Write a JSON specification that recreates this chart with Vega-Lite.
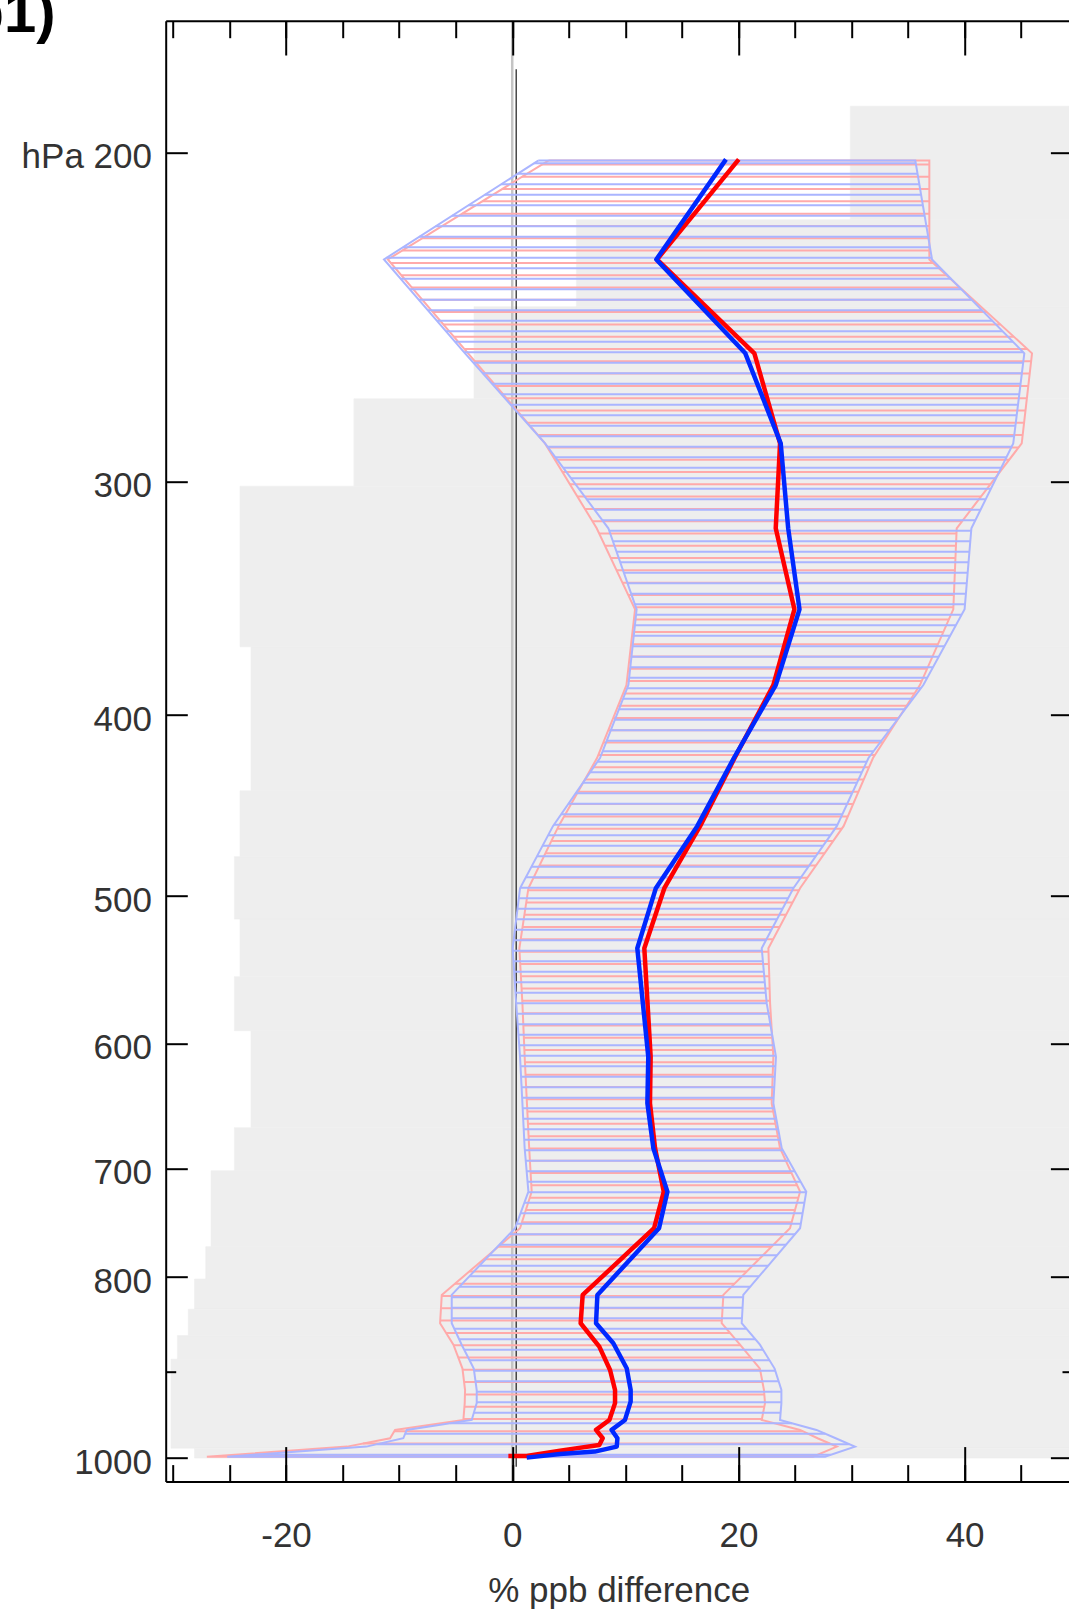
{
"$schema": "https://vega.github.io/schema/vega-lite/v6.json",
"width": 903.3,
"height": 1460.9,
"autosize": {"type": "none"},
"padding": {"left": 165.7, "top": 20.7, "right": 0, "bottom": 131.4},
"background": "white",
"config": {"view": {"stroke": null}, "axis": {"grid": false}},
"resolve": {"axis": {"x": "independent", "y": "independent"}},
"datasets": {
"lab": [{"t":"b1)","x":-48.07,"p":172.43}],
"gray": [{"p1":188.9,"p2":217.3,"x":29.9},{"p1":217.3,"p2":241.9,"x":5.67},{"p1":241.9,"p2":271.0,"x":-3.38},{"p1":271.0,"p2":301.8,"x":-14.0},{"p1":301.8,"p2":367.9,"x":-24.07},{"p1":367.9,"p2":439.4,"x":-23.09},{"p1":439.4,"p2":476.6,"x":-24.07},{"p1":476.6,"p2":514.7,"x":-24.57},{"p1":514.7,"p2":552.6,"x":-24.07},{"p1":552.6,"p2":590.7,"x":-24.57},{"p1":590.7,"p2":665.7,"x":-23.09},{"p1":665.7,"p2":702.0,"x":-24.57},{"p1":702.0,"p2":770.9,"x":-26.63},{"p1":770.9,"p2":802.3,"x":-27.1},{"p1":802.3,"p2":832.8,"x":-28.1},{"p1":832.8,"p2":860.3,"x":-28.64},{"p1":860.3,"p2":885.7,"x":-29.61},{"p1":885.7,"p2":988.5,"x":-30.17},{"p1":988.5,"p2":1000.5,"x":-28.1}],
"zero": [{"x":0}],
"ref": [{"x":0.35,"p1":180.5,"p2":1011.2}],
"rh": [{"p":202.97,"lo":2.64,"hi":36.88},{"p":206.07,"lo":0.87,"hi":36.88},{"p":209.22,"lo":-0.89,"hi":36.88},{"p":212.42,"lo":-2.66,"hi":36.88},{"p":215.67,"lo":-4.42,"hi":36.88},{"p":218.97,"lo":-6.19,"hi":36.88},{"p":222.32,"lo":-7.96,"hi":36.88},{"p":225.72,"lo":-9.72,"hi":36.88},{"p":229.17,"lo":-10.74,"hi":37.21},{"p":232.67,"lo":-9.81,"hi":38.4},{"p":236.23,"lo":-8.88,"hi":39.59},{"p":239.84,"lo":-7.96,"hi":40.78},{"p":243.51,"lo":-7.03,"hi":41.97},{"p":247.23,"lo":-6.1,"hi":43.16},{"p":251.01,"lo":-5.17,"hi":44.35},{"p":254.85,"lo":-4.24,"hi":45.53},{"p":258.74,"lo":-3.31,"hi":45.88},{"p":262.69,"lo":-2.38,"hi":45.76},{"p":266.7,"lo":-1.45,"hi":45.63},{"p":270.78,"lo":-0.52,"hi":45.51},{"p":274.92,"lo":0.41,"hi":45.38},{"p":279.12,"lo":1.34,"hi":45.26},{"p":283.39,"lo":2.27,"hi":45.13},{"p":287.72,"lo":3.11,"hi":44.79},{"p":292.12,"lo":3.77,"hi":43.95},{"p":296.58,"lo":4.43,"hi":43.12},{"p":301.11,"lo":5.1,"hi":42.29},{"p":305.71,"lo":5.76,"hi":41.45},{"p":310.38,"lo":6.42,"hi":40.62},{"p":315.12,"lo":7.08,"hi":39.79},{"p":319.94,"lo":7.68,"hi":39.28},{"p":324.83,"lo":8.2,"hi":39.24},{"p":329.79,"lo":8.71,"hi":39.19},{"p":334.83,"lo":9.23,"hi":39.14},{"p":339.95,"lo":9.75,"hi":39.1},{"p":345.15,"lo":10.26,"hi":39.05},{"p":350.42,"lo":10.78,"hi":39.01},{"p":355.78,"lo":10.76,"hi":38.6},{"p":361.22,"lo":10.63,"hi":38.12},{"p":366.74,"lo":10.51,"hi":37.64},{"p":372.34,"lo":10.39,"hi":37.17},{"p":378.03,"lo":10.26,"hi":36.69},{"p":383.81,"lo":10.14,"hi":36.21},{"p":389.68,"lo":9.81,"hi":35.58},{"p":395.64,"lo":9.37,"hi":34.88},{"p":401.69,"lo":8.93,"hi":34.18},{"p":407.83,"lo":8.49,"hi":33.48},{"p":414.06,"lo":8.05,"hi":32.78},{"p":420.39,"lo":7.61,"hi":32.08},{"p":426.81,"lo":7.05,"hi":31.55},{"p":433.33,"lo":6.43,"hi":31.08},{"p":439.95,"lo":5.82,"hi":30.62},{"p":446.67,"lo":5.21,"hi":30.15},{"p":453.5,"lo":4.59,"hi":29.68},{"p":460.43,"lo":4.0,"hi":29.15},{"p":467.47,"lo":3.47,"hi":28.39},{"p":474.61,"lo":2.94,"hi":27.62},{"p":481.86,"lo":2.41,"hi":26.86},{"p":489.22,"lo":1.88,"hi":26.1},{"p":496.7,"lo":1.4,"hi":25.36},{"p":504.29,"lo":1.24,"hi":24.79},{"p":512.0,"lo":1.08,"hi":24.22},{"p":519.82,"lo":0.91,"hi":23.64},{"p":527.76,"lo":0.75,"hi":23.07},{"p":535.83,"lo":0.65,"hi":22.66},{"p":544.02,"lo":0.71,"hi":22.69},{"p":552.33,"lo":0.77,"hi":22.73},{"p":560.77,"lo":0.83,"hi":22.76},{"p":569.34,"lo":0.89,"hi":22.79},{"p":578.04,"lo":0.94,"hi":22.85},{"p":586.87,"lo":0.98,"hi":22.92},{"p":595.84,"lo":1.03,"hi":22.99},{"p":604.95,"lo":1.07,"hi":23.05},{"p":614.19,"lo":1.12,"hi":23.07},{"p":623.58,"lo":1.18,"hi":23.03},{"p":633.11,"lo":1.23,"hi":22.99},{"p":642.79,"lo":1.28,"hi":22.95},{"p":652.61,"lo":1.34,"hi":23.08},{"p":662.58,"lo":1.39,"hi":23.28},{"p":672.71,"lo":1.45,"hi":23.48},{"p":682.99,"lo":1.5,"hi":23.69},{"p":693.43,"lo":1.56,"hi":24.19},{"p":704.03,"lo":1.63,"hi":24.69},{"p":714.79,"lo":1.69,"hi":25.19},{"p":725.71,"lo":1.55,"hi":25.31},{"p":736.8,"lo":1.21,"hi":25.01},{"p":748.06,"lo":0.86,"hi":24.71},{"p":759.49,"lo":0.05,"hi":24.01},{"p":771.1,"lo":-1.23,"hi":22.92},{"p":782.88,"lo":-2.51,"hi":21.83},{"p":794.84,"lo":-3.79,"hi":20.75},{"p":806.99,"lo":-5.07,"hi":19.66},{"p":819.32,"lo":-6.24,"hi":18.66},{"p":831.84,"lo":-6.3,"hi":18.6},{"p":844.55,"lo":-6.37,"hi":18.53},{"p":857.46,"lo":-5.85,"hi":19.25},{"p":870.56,"lo":-5.18,"hi":20.18},{"p":883.86,"lo":-4.77,"hi":21.08},{"p":897.37,"lo":-4.39,"hi":21.92},{"p":911.08,"lo":-4.26,"hi":22.13},{"p":925.0,"lo":-4.18,"hi":22.29},{"p":939.14,"lo":-4.23,"hi":22.29},{"p":953.49,"lo":-4.31,"hi":22.08},{"p":968.06,"lo":-10.43,"hi":25.69},{"p":982.85,"lo":-13.2,"hi":28.07},{"p":997.87,"lo":-26.01,"hi":26.77}],
"bh": [{"p":202.7,"lo":1.91,"hi":35.68},{"p":205.34,"lo":0.47,"hi":35.84},{"p":208.02,"lo":-0.98,"hi":36.0},{"p":210.73,"lo":-2.43,"hi":36.15},{"p":213.47,"lo":-3.88,"hi":36.31},{"p":216.25,"lo":-5.33,"hi":36.47},{"p":219.07,"lo":-6.78,"hi":36.62},{"p":221.92,"lo":-8.22,"hi":36.78},{"p":224.81,"lo":-9.67,"hi":36.94},{"p":227.74,"lo":-11.12,"hi":37.1},{"p":230.71,"lo":-10.66,"hi":37.89},{"p":233.72,"lo":-9.86,"hi":38.81},{"p":236.77,"lo":-9.06,"hi":39.72},{"p":239.86,"lo":-8.26,"hi":40.63},{"p":242.98,"lo":-7.45,"hi":41.54},{"p":246.15,"lo":-6.65,"hi":42.46},{"p":249.36,"lo":-5.85,"hi":43.37},{"p":252.61,"lo":-5.05,"hi":44.28},{"p":255.9,"lo":-4.25,"hi":45.19},{"p":259.23,"lo":-3.42,"hi":45.18},{"p":262.61,"lo":-2.6,"hi":45.06},{"p":266.03,"lo":-1.78,"hi":44.95},{"p":269.5,"lo":-0.95,"hi":44.83},{"p":273.01,"lo":-0.13,"hi":44.72},{"p":276.57,"lo":0.7,"hi":44.61},{"p":280.17,"lo":1.52,"hi":44.49},{"p":283.82,"lo":2.34,"hi":44.38},{"p":287.52,"lo":3.12,"hi":44.15},{"p":291.27,"lo":3.82,"hi":43.69},{"p":295.07,"lo":4.51,"hi":43.24},{"p":298.91,"lo":5.2,"hi":42.78},{"p":302.81,"lo":5.89,"hi":42.32},{"p":306.75,"lo":6.59,"hi":41.86},{"p":310.75,"lo":7.28,"hi":41.41},{"p":314.8,"lo":7.97,"hi":40.95},{"p":318.9,"lo":8.58,"hi":40.58},{"p":323.06,"lo":8.9,"hi":40.5},{"p":327.27,"lo":9.23,"hi":40.43},{"p":331.53,"lo":9.55,"hi":40.35},{"p":335.85,"lo":9.88,"hi":40.27},{"p":340.23,"lo":10.2,"hi":40.19},{"p":344.66,"lo":10.52,"hi":40.11},{"p":349.15,"lo":10.85,"hi":40.04},{"p":353.7,"lo":10.95,"hi":39.73},{"p":358.31,"lo":10.85,"hi":39.23},{"p":362.98,"lo":10.74,"hi":38.72},{"p":367.71,"lo":10.64,"hi":38.22},{"p":372.5,"lo":10.54,"hi":37.71},{"p":377.35,"lo":10.44,"hi":37.21},{"p":382.27,"lo":10.34,"hi":36.7},{"p":387.25,"lo":10.16,"hi":36.14},{"p":392.3,"lo":9.8,"hi":35.44},{"p":397.41,"lo":9.44,"hi":34.74},{"p":402.59,"lo":9.08,"hi":34.04},{"p":407.84,"lo":8.71,"hi":33.34},{"p":413.15,"lo":8.35,"hi":32.64},{"p":418.53,"lo":7.99,"hi":31.95},{"p":423.98,"lo":7.53,"hi":31.34},{"p":429.51,"lo":6.89,"hi":30.91},{"p":435.11,"lo":6.25,"hi":30.48},{"p":440.78,"lo":5.61,"hi":30.05},{"p":446.52,"lo":4.97,"hi":29.62},{"p":452.34,"lo":4.33,"hi":29.19},{"p":458.23,"lo":3.69,"hi":28.76},{"p":464.2,"lo":3.17,"hi":28.14},{"p":470.25,"lo":2.68,"hi":27.49},{"p":476.38,"lo":2.19,"hi":26.84},{"p":482.59,"lo":1.69,"hi":26.19},{"p":488.88,"lo":1.2,"hi":25.53},{"p":495.25,"lo":0.71,"hi":24.88},{"p":501.7,"lo":0.58,"hi":24.39},{"p":508.24,"lo":0.47,"hi":23.9},{"p":514.86,"lo":0.35,"hi":23.41},{"p":521.57,"lo":0.24,"hi":22.92},{"p":528.37,"lo":0.13,"hi":22.43},{"p":535.26,"lo":0.05,"hi":22.08},{"p":542.24,"lo":0.11,"hi":22.16},{"p":549.31,"lo":0.17,"hi":22.25},{"p":556.47,"lo":0.23,"hi":22.33},{"p":563.72,"lo":0.29,"hi":22.42},{"p":571.07,"lo":0.35,"hi":22.5},{"p":578.51,"lo":0.42,"hi":22.66},{"p":586.05,"lo":0.48,"hi":22.82},{"p":593.69,"lo":0.55,"hi":22.98},{"p":601.43,"lo":0.62,"hi":23.14},{"p":609.27,"lo":0.68,"hi":23.3},{"p":617.21,"lo":0.73,"hi":23.27},{"p":625.25,"lo":0.78,"hi":23.22},{"p":633.4,"lo":0.83,"hi":23.17},{"p":641.65,"lo":0.88,"hi":23.12},{"p":650.01,"lo":0.92,"hi":23.17},{"p":658.48,"lo":0.97,"hi":23.35},{"p":667.06,"lo":1.02,"hi":23.52},{"p":675.75,"lo":1.06,"hi":23.69},{"p":684.56,"lo":1.12,"hi":23.93},{"p":693.48,"lo":1.2,"hi":24.46},{"p":702.52,"lo":1.28,"hi":24.98},{"p":711.67,"lo":1.36,"hi":25.51},{"p":720.94,"lo":1.41,"hi":25.99},{"p":730.33,"lo":1.07,"hi":25.83},{"p":739.85,"lo":0.73,"hi":25.68},{"p":749.49,"lo":0.4,"hi":25.52},{"p":759.26,"lo":-0.25,"hi":25.0},{"p":769.15,"lo":-1.14,"hi":24.21},{"p":779.17,"lo":-2.02,"hi":23.41},{"p":789.32,"lo":-2.9,"hi":22.62},{"p":799.61,"lo":-3.79,"hi":21.83},{"p":810.03,"lo":-4.67,"hi":21.04},{"p":820.59,"lo":-5.35,"hi":20.42},{"p":831.28,"lo":-5.35,"hi":20.37},{"p":842.11,"lo":-5.35,"hi":20.31},{"p":853.08,"lo":-5.12,"hi":20.7},{"p":864.2,"lo":-4.69,"hi":21.49},{"p":875.46,"lo":-4.24,"hi":22.18},{"p":886.87,"lo":-3.77,"hi":22.75},{"p":898.43,"lo":-3.37,"hi":23.26},{"p":910.14,"lo":-3.25,"hi":23.55},{"p":922.0,"lo":-3.14,"hi":23.8},{"p":934.01,"lo":-3.14,"hi":23.8},{"p":946.18,"lo":-3.39,"hi":23.73},{"p":958.51,"lo":-5.48,"hi":24.74},{"p":971.0,"lo":-9.47,"hi":27.68},{"p":983.65,"lo":-11.97,"hi":29.81},{"p":996.47,"lo":-22.86,"hi":28.16}],
"ro": [{"i":1,"p":202,"v":3.2},{"i":2,"p":228.2,"v":-11.0},{"i":3,"p":256.2,"v":-3.9},{"i":4,"p":286.3,"v":2.9},{"i":5,"p":317.9,"v":7.47},{"i":6,"p":351.3,"v":10.86},{"i":7,"p":385.7,"v":10.1},{"i":8,"p":422,"v":7.5},{"i":9,"p":459,"v":4.1},{"i":10,"p":495.5,"v":1.43},{"i":11,"p":533.6,"v":0.63},{"i":12,"p":571,"v":0.9},{"i":13,"p":610,"v":1.1},{"i":14,"p":646,"v":1.3},{"i":15,"p":682.8,"v":1.5},{"i":16,"p":720.4,"v":1.72},{"i":17,"p":753.6,"v":0.69},{"i":18,"p":818.2,"v":-6.23},{"i":19,"p":847.3,"v":-6.38},{"i":20,"p":870,"v":-5.2},{"i":21,"p":896,"v":-4.4},{"i":22,"p":920,"v":-4.17},{"i":23,"p":935,"v":-4.2},{"i":24,"p":954.6,"v":-4.32},{"i":25,"p":966.4,"v":-10.36},{"i":26,"p":976.4,"v":-10.8},{"i":27,"p":986.5,"v":-14.6},{"i":28,"p":998.8,"v":-27.0},{"i":29,"p":998.8,"v":26.6},{"i":30,"p":986.5,"v":28.7},{"i":31,"p":976.4,"v":27.0},{"i":32,"p":966.4,"v":25.45},{"i":33,"p":954.6,"v":22.06},{"i":34,"p":935,"v":22.35},{"i":35,"p":920,"v":22.26},{"i":36,"p":896,"v":21.9},{"i":37,"p":870,"v":20.14},{"i":38,"p":847.3,"v":18.52},{"i":39,"p":818.2,"v":18.67},{"i":40,"p":753.6,"v":24.56},{"i":41,"p":720.4,"v":25.45},{"i":42,"p":682.8,"v":23.68},{"i":43,"p":646,"v":22.94},{"i":44,"p":610,"v":23.09},{"i":45,"p":571,"v":22.8},{"i":46,"p":533.6,"v":22.65},{"i":47,"p":495.5,"v":25.45},{"i":48,"p":459,"v":29.3},{"i":49,"p":422,"v":31.9},{"i":50,"p":385.7,"v":36.05},{"i":51,"p":351.3,"v":39.0},{"i":52,"p":317.9,"v":39.3},{"i":53,"p":286.3,"v":45.05},{"i":54,"p":256.2,"v":45.96},{"i":55,"p":228.2,"v":36.88},{"i":56,"p":202,"v":36.88},{"i":57,"p":202,"v":3.2}],
"bo": [{"i":1,"p":202,"v":2.3},{"i":2,"p":228.2,"v":-11.34},{"i":3,"p":256.2,"v":-4.17},{"i":4,"p":286.3,"v":2.9},{"i":5,"p":317.9,"v":8.5},{"i":6,"p":351.3,"v":11.0},{"i":7,"p":385.7,"v":10.27},{"i":8,"p":422,"v":7.76},{"i":9,"p":459,"v":3.6},{"i":10,"p":495.5,"v":0.69},{"i":11,"p":533.6,"v":0.04},{"i":12,"p":571,"v":0.35},{"i":13,"p":610,"v":0.69},{"i":14,"p":646,"v":0.9},{"i":15,"p":682.8,"v":1.1},{"i":16,"p":720.4,"v":1.43},{"i":17,"p":753.6,"v":0.25},{"i":18,"p":818.2,"v":-5.35},{"i":19,"p":847.3,"v":-5.35},{"i":20,"p":870,"v":-4.47},{"i":21,"p":896,"v":-3.4},{"i":22,"p":920,"v":-3.14},{"i":23,"p":935,"v":-3.14},{"i":24,"p":954.6,"v":-3.58},{"i":25,"p":966.4,"v":-9.33},{"i":26,"p":976.4,"v":-9.63},{"i":27,"p":986.5,"v":-12.9},{"i":28,"p":998.8,"v":-25.2},{"i":29,"p":998.8,"v":27.66},{"i":30,"p":986.5,"v":30.3},{"i":31,"p":976.4,"v":28.6},{"i":32,"p":966.4,"v":26.9},{"i":33,"p":954.6,"v":23.68},{"i":34,"p":935,"v":23.8},{"i":35,"p":920,"v":23.8},{"i":36,"p":896,"v":23.2},{"i":37,"p":870,"v":21.9},{"i":38,"p":847.3,"v":20.29},{"i":39,"p":818.2,"v":20.43},{"i":40,"p":753.6,"v":25.45},{"i":41,"p":720.4,"v":26.0},{"i":42,"p":682.8,"v":23.83},{"i":43,"p":646,"v":23.09},{"i":44,"p":610,"v":23.32},{"i":45,"p":571,"v":22.5},{"i":46,"p":533.6,"v":22.06},{"i":47,"p":495.5,"v":24.86},{"i":48,"p":459,"v":28.7},{"i":49,"p":422,"v":31.5},{"i":50,"p":385.7,"v":36.35},{"i":51,"p":351.3,"v":40.0},{"i":52,"p":317.9,"v":40.6},{"i":53,"p":286.3,"v":44.3},{"i":54,"p":256.2,"v":45.28},{"i":55,"p":228.2,"v":37.12},{"i":56,"p":202,"v":35.64},{"i":57,"p":202,"v":2.3}],
"rm": [{"i":1,"p":201.7,"v":20.03},{"i":2,"p":228.2,"v":12.8},{"i":3,"p":256.2,"v":21.41},{"i":4,"p":286.3,"v":23.68},{"i":5,"p":317.9,"v":23.3},{"i":6,"p":351.3,"v":24.95},{"i":7,"p":385.7,"v":23.09},{"i":8,"p":422,"v":19.66},{"i":9,"p":459,"v":16.61},{"i":10,"p":495.5,"v":13.45},{"i":11,"p":533.6,"v":11.68},{"i":12,"p":610,"v":12.24},{"i":13,"p":646,"v":12.18},{"i":14,"p":682.8,"v":12.63},{"i":15,"p":720.4,"v":13.4},{"i":16,"p":753.6,"v":12.54},{"i":17,"p":818.2,"v":6.23},{"i":18,"p":847.3,"v":6.05},{"i":19,"p":872.1,"v":7.7},{"i":20,"p":897.5,"v":8.65},{"i":21,"p":919.9,"v":9.09},{"i":22,"p":935,"v":9.09},{"i":23,"p":954.6,"v":8.59},{"i":24,"p":966.4,"v":7.41},{"i":25,"p":976.4,"v":8.0},{"i":26,"p":984.5,"v":7.7},{"i":27,"p":991.4,"v":4.23},{"i":28,"p":997.9,"v":1.28},{"i":29,"p":997.9,"v":-0.34}],
"bm": [{"i":1,"p":201.7,"v":18.9},{"i":2,"p":228.2,"v":12.74},{"i":3,"p":256.2,"v":20.61},{"i":4,"p":286.3,"v":23.74},{"i":5,"p":317.9,"v":24.4},{"i":6,"p":351.3,"v":25.4},{"i":7,"p":385.7,"v":23.3},{"i":8,"p":422,"v":19.6},{"i":9,"p":459,"v":16.36},{"i":10,"p":495.5,"v":12.7},{"i":11,"p":533.6,"v":11.06},{"i":12,"p":610,"v":12.03},{"i":13,"p":646,"v":11.95},{"i":14,"p":682.8,"v":12.48},{"i":15,"p":720.4,"v":13.72},{"i":16,"p":753.6,"v":12.98},{"i":17,"p":818.2,"v":7.53},{"i":18,"p":847.3,"v":7.41},{"i":19,"p":868.4,"v":8.94},{"i":20,"p":895.6,"v":10.12},{"i":21,"p":919.9,"v":10.47},{"i":22,"p":933.3,"v":10.47},{"i":23,"p":954.6,"v":9.97},{"i":24,"p":966.4,"v":8.79},{"i":25,"p":976.4,"v":9.3},{"i":26,"p":986.5,"v":9.24},{"i":27,"p":992.6,"v":7.3},{"i":28,"p":995.5,"v":4.23},{"i":29,"p":1000,"v":1.28}]
},
"layer": [
{"data": {"name": "gray"},
 "mark": {"type": "rect", "fill": "#eeeeee", "stroke": "#eeeeee", "strokeWidth": 0.6},
 "encoding": {
  "x": {"field": "x", "type": "quantitative", "scale": {"domain": [-30.64, 49.23], "nice": false, "zero": false},
   "axis": {"orient": "bottom", "values": [-20, 0, 20, 40], "ticks": false, "domain": true, "domainColor": "#000000", "domainWidth": 2, "labels": true, "labelFont": "Liberation Sans", "labelFontSize": 35, "labelColor": "#333333", "labelPadding": 65, "labelBaseline": "alphabetic", "labelFlush": false, "labelOverlap": false, "labelExpr": "'' + datum.value", "title": "% ppb difference", "titleFont": "Liberation Sans", "titleFontSize": 35, "titleFontWeight": "normal", "titleColor": "#333333", "titleBaseline": "alphabetic", "titleX": 453, "titleY": 120, "grid": false, "zindex": 2}},
  "x2": {"datum": 49.23},
  "y": {"field": "p1", "type": "quantitative", "scale": {"type": "log", "domain": [170, 1030], "reverse": true, "nice": false},
   "axis": {"orient": "left", "values": [200, 300, 400, 500, 600, 700, 800, 1000], "ticks": false, "domain": true, "domainColor": "#000000", "domainWidth": 2, "labelFont": "Liberation Sans", "labelFontSize": 35, "labelColor": "#333333", "labelPadding": 14.2, "labelBaseline": "alphabetic", "labelOffset": 15.5, "labelAlign": "right", "labelFlush": false, "labelOverlap": false, "labelExpr": "datum.value == 200 ? 'hPa 200' : '' + datum.value", "title": null, "grid": false, "zindex": 2}},
  "y2": {"field": "p2"}
 }},
{"data": {"name": "zero"},
 "mark": {"type": "rule", "color": "#c4c4c4", "strokeWidth": 2.5},
 "encoding": {
  "x": {"field": "x", "type": "quantitative", "scale": {"domain": [-30.64, 49.23], "nice": false, "zero": false},
   "axis": {"orient": "bottom", "values": [-20, 0, 20, 40], "ticks": true, "tickSize": -35, "tickWidth": 2, "tickColor": "#000000", "labels": false, "domain": false, "title": null, "grid": false, "zindex": 2}}
 }},
{"data": {"name": "ref"},
 "mark": {"type": "rule", "color": "#1a1a1a", "strokeWidth": 1.2},
 "encoding": {
  "x": {"field": "x", "type": "quantitative", "scale": {"domain": [-30.64, 49.23], "nice": false, "zero": false},
   "axis": {"orient": "top", "values": [-20, 0, 20, 40], "ticks": true, "tickSize": -34.3, "tickWidth": 2, "tickColor": "#000000", "labels": false, "domain": true, "domainColor": "#000000", "domainWidth": 2, "title": null, "grid": false, "zindex": 2}},
  "y": {"field": "p1", "type": "quantitative", "scale": {"type": "log", "domain": [170, 1030], "reverse": true, "nice": false},
   "axis": {"orient": "left", "values": [900], "ticks": true, "tickSize": -10, "tickWidth": 2, "tickColor": "#000000", "labels": false, "domain": false, "title": null, "grid": false, "zindex": 2}},
  "y2": {"field": "p2"}
 }},
{"data": {"name": "rh"},
 "mark": {"type": "rule", "color": "#ffaaaa", "strokeWidth": 2},
 "encoding": {
  "x": {"field": "lo", "type": "quantitative", "scale": {"domain": [-30.64, 49.23], "nice": false, "zero": false},
   "axis": {"orient": "bottom", "values": [-30, -25, -20, -15, -10, -5, 0, 5, 10, 15, 20, 25, 30, 35, 40, 45], "ticks": true, "tickSize": -17, "tickWidth": 2, "tickColor": "#000000", "labels": false, "domain": false, "title": null, "grid": false, "zindex": 2}},
  "x2": {"field": "hi"},
  "y": {"field": "p", "type": "quantitative", "scale": {"type": "log", "domain": [170, 1030], "reverse": true, "nice": false},
   "axis": {"orient": "left", "values": [200, 300, 400, 500, 600, 700, 800, 1000], "ticks": true, "tickSize": -21.6, "tickWidth": 2, "tickColor": "#000000", "labels": false, "domain": false, "title": null, "grid": false, "zindex": 2}}
 }},
{"data": {"name": "ro"},
 "mark": {"type": "line", "color": "#ffaaaa", "strokeWidth": 2},
 "encoding": {
  "x": {"field": "v", "type": "quantitative", "scale": {"domain": [-30.64, 49.23], "nice": false, "zero": false},
   "axis": {"orient": "top", "values": [-30, -25, -20, -15, -10, -5, 0, 5, 10, 15, 20, 25, 30, 35, 40, 45], "ticks": true, "tickSize": -17, "tickWidth": 2, "tickColor": "#000000", "labels": false, "domain": false, "title": null, "grid": false, "zindex": 2}},
  "y": {"field": "p", "type": "quantitative", "scale": {"type": "log", "domain": [170, 1030], "reverse": true, "nice": false},
   "axis": {"orient": "right", "values": [200, 300, 400, 500, 600, 700, 800, 1000], "ticks": true, "tickSize": -18.6, "tickWidth": 2, "tickColor": "#000000", "labels": false, "domain": false, "title": null, "grid": false, "zindex": 2}},
  "order": {"field": "i", "type": "quantitative"}
 }},
{"data": {"name": "bh"},
 "mark": {"type": "rule", "color": "#aab5ff", "strokeWidth": 2},
 "encoding": {
  "x": {"field": "lo", "type": "quantitative", "scale": {"domain": [-30.64, 49.23], "nice": false, "zero": false}, "axis": null},
  "x2": {"field": "hi"},
  "y": {"field": "p", "type": "quantitative", "scale": {"type": "log", "domain": [170, 1030], "reverse": true, "nice": false},
   "axis": {"orient": "right", "values": [900], "ticks": true, "tickSize": -7, "tickWidth": 2, "tickColor": "#000000", "labels": false, "domain": false, "title": null, "grid": false, "zindex": 2}}
 }},
{"data": {"name": "bo"},
 "mark": {"type": "line", "color": "#aab5ff", "strokeWidth": 2},
 "encoding": {
  "x": {"field": "v", "type": "quantitative", "scale": {"domain": [-30.64, 49.23], "nice": false, "zero": false}, "axis": null},
  "y": {"field": "p", "type": "quantitative", "scale": {"type": "log", "domain": [170, 1030], "reverse": true, "nice": false}, "axis": null},
  "order": {"field": "i", "type": "quantitative"}
 }},
{"data": {"name": "rm"},
 "mark": {"type": "line", "color": "#ff0000", "strokeWidth": 4.5, "strokeJoin": "round"},
 "encoding": {
  "x": {"field": "v", "type": "quantitative", "scale": {"domain": [-30.64, 49.23], "nice": false, "zero": false}, "axis": null},
  "y": {"field": "p", "type": "quantitative", "scale": {"type": "log", "domain": [170, 1030], "reverse": true, "nice": false}, "axis": null},
  "order": {"field": "i", "type": "quantitative"}
 }},
{"data": {"name": "bm"},
 "mark": {"type": "line", "color": "#0028ff", "strokeWidth": 4.5, "strokeJoin": "round"},
 "encoding": {
  "x": {"field": "v", "type": "quantitative", "scale": {"domain": [-30.64, 49.23], "nice": false, "zero": false}, "axis": null},
  "y": {"field": "p", "type": "quantitative", "scale": {"type": "log", "domain": [170, 1030], "reverse": true, "nice": false}, "axis": null},
  "order": {"field": "i", "type": "quantitative"}
 }},
{"data": {"name": "lab"},
 "mark": {"type": "text", "font": "Liberation Sans", "fontSize": 58, "fontWeight": "bold", "color": "#000000", "align": "left", "baseline": "alphabetic"},
 "encoding": {
  "x": {"field": "x", "type": "quantitative", "scale": {"domain": [-30.64, 49.23], "nice": false, "zero": false}, "axis": null},
  "y": {"field": "p", "type": "quantitative", "scale": {"type": "log", "domain": [170, 1030], "reverse": true, "nice": false}, "axis": null},
  "text": {"field": "t"}
 }}
]
}
